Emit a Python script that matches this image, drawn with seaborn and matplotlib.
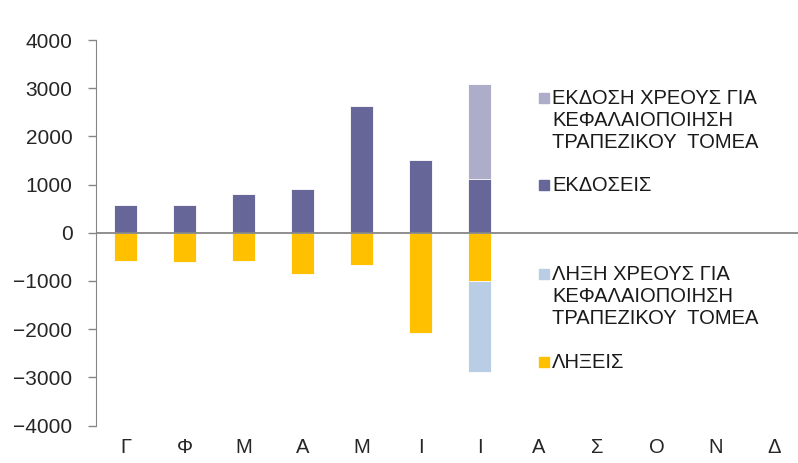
import pandas as pd
import numpy as np
import matplotlib.pyplot as plt
import seaborn as sns
from matplotlib.patches import Rectangle

# ------------------------- DATI -------------------------
months = ["Γ", "Φ", "Μ", "Α", "Μ", "Ι", "Ι", "Α", "Σ", "Ο", "Ν", "Δ"]
issues = [580, 580, 800, 900, 2630, 1520, 1120, np.nan, np.nan, np.nan, np.nan, np.nan]
issues_bank = [0, 0, 0, 0, 0, 0, 1960, np.nan, np.nan, np.nan, np.nan, np.nan]
maturities = [-590, -615, -590, -850, -660, -2080, -1000, np.nan, np.nan, np.nan, np.nan, np.nan]
maturities_bank = [0, 0, 0, 0, 0, 0, -1900, np.nan, np.nan, np.nan, np.nan, np.nan]

lbl_issue_bank = ["ΕΚΔΟΣΗ ΧΡΕΟΥΣ ΓΙΑ", "ΚΕΦΑΛΑΙΟΠΟΙΗΣΗ", "ΤΡΑΠΕΖΙΚΟΥ  ΤΟΜΕΑ"]
lbl_issue = ["ΕΚΔΟΣΕΙΣ"]
lbl_mat_bank = ["ΛΗΞΗ ΧΡΕΟΥΣ ΓΙΑ", "ΚΕΦΑΛΑΙΟΠΟΙΗΣΗ", "ΤΡΑΠΕΖΙΚΟΥ  ΤΟΜΕΑ"]
lbl_mat = ["ΛΗΞΕΙΣ"]

c_issue, c_issue_bank = "#666699", "#ADADCA"
c_mat, c_mat_bank = "#FFC000", "#B9CDE5"

keys = [str(i) for i in range(12)]
df = pd.DataFrame({
    "key": keys,
    "issues": issues,
    "issues_tot": np.array(issues) + np.array(issues_bank),
    "mat": maturities,
    "mat_tot": np.array(maturities) + np.array(maturities_bank),
})

# ------------------------- GRAFICO -------------------------
sns.set_style("white")
plt.rcParams["font.family"] = ["Liberation Sans", "DejaVu Sans"]

W, H = 798, 463
fig = plt.figure(figsize=(W / 100, H / 100), dpi=100)
ax = fig.add_axes([96 / W, (H - 425.5) / H, 708 / W, 385.5 / H])

bar_kw = dict(order=keys, width=0.4, saturation=1, edgecolor="white", linewidth=0.6, ax=ax)
sns.barplot(data=df, x="key", y="issues_tot", color=c_issue_bank, **bar_kw)
sns.barplot(data=df, x="key", y="issues", color=c_issue, **bar_kw)
sns.barplot(data=df, x="key", y="mat_tot", color=c_mat_bank, **bar_kw)
sns.barplot(data=df, x="key", y="mat", color=c_mat, **bar_kw)

ax.axhline(0, color="#868686", lw=1.3, zorder=5)
ax.set_ylim(-4000, 4000)
ax.set_xlim(-0.5, 11.5)
ax.set_yticks(range(-4000, 4001, 1000))
ax.set_xticks(range(12))
ax.set_xticklabels(months)
ax.set_xlabel("")
ax.set_ylabel("")
ax.tick_params(axis="y", length=6, width=1, color="#868686", pad=11, labelsize=15, left=True)
ax.tick_params(axis="x", length=0, pad=9, labelsize=14.5)
for s in ["top", "right", "bottom"]:
    ax.spines[s].set_visible(False)
ax.spines["left"].set_color("#868686")


# legenda disegnata a mano (quadratino allineato alla prima riga, come in Excel)
def legend_item(lines, color, y_first):
    fig.patches.append(Rectangle((539 / W, 1 - (y_first + 5) / H), 10 / W, 10 / H,
                                 transform=fig.transFigure, color=color))
    for i, line in enumerate(lines):
        fig.text(552 / W, 1 - (y_first + 6.5 + 22 * i) / H, line,
                 fontsize=14.5, va="baseline", ha="left", color="#1a1a1a")


legend_item(lbl_issue_bank, c_issue_bank, 98)
legend_item(lbl_issue, c_issue, 185)
legend_item(lbl_mat_bank, c_mat_bank, 274)
legend_item(lbl_mat, c_mat, 362)

fig.savefig("out.png", dpi=100)
